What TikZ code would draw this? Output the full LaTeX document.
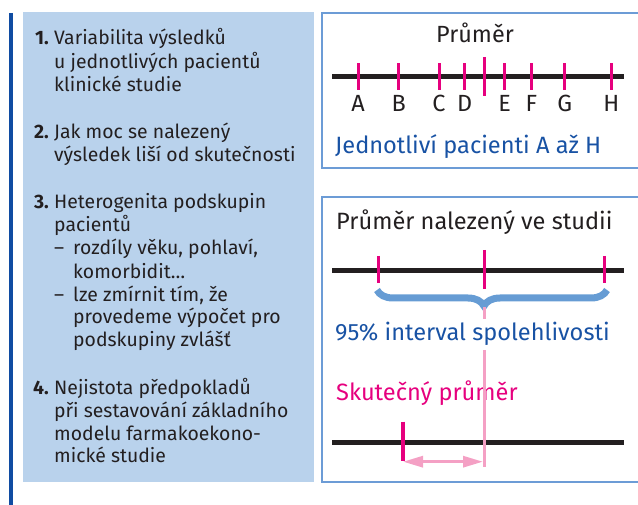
\documentclass[tikz,border=0pt]{standalone}
\usepackage{fontspec}
\setmainfont{Fira Sans}
\usetikzlibrary{arrows.meta,decorations.pathreplacing}

\definecolor{panelblue}{RGB}{185,210,236}
\definecolor{barblue}{RGB}{16,76,162}
\definecolor{frameblue}{RGB}{108,156,214}
\definecolor{inkgray}{RGB}{35,31,32}
\definecolor{textblue}{RGB}{24,82,164}
\definecolor{tickpink}{RGB}{230,0,126}
\definecolor{softpink}{RGB}{244,160,196}
\definecolor{braceblue}{RGB}{102,156,212}

\tikzset{
  listline/.style={anchor=base west, inner sep=0pt, text=inkgray,
    font=\fontsize{19.4}{23}\selectfont},
  listnum/.style={anchor=base east, inner sep=0pt, text=inkgray,
    font=\fontsize{19.4}{23}\selectfont\bfseries},
  boxtext/.style={anchor=base west, inner sep=0pt,
    font=\fontsize{23.6}{28}\selectfont},
  ticklabel/.style={anchor=base, inner sep=0pt, text=inkgray,
    font=\fontsize{23.4}{28}\selectfont},
  frame/.style={draw=frameblue, line width=2pt},
  axis/.style={draw=inkgray, line width=5pt},
  tick/.style={draw=tickpink, line width=3pt},
  meanline/.style={draw=softpink, line width=3pt},
}

\begin{document}
\begin{tikzpicture}[x=1pt,y=-1pt]
\useasboundingbox (0,0) rectangle (638,505);

% ---------- left panel with the list of uncertainty sources ----------
\fill[panelblue] (23,12) rectangle (314,482);
\draw[barblue, line width=3.5pt] (11,13) -- (11,505);

\node[listnum] (n1) at (49,45) {1.};
\node[listnum] (n2) at (49,139) {2.};
\node[listnum] (n3) at (49,208.5) {3.};
\node[listnum] (n4) at (49,395) {4.};

\foreach \yy/\txt [count=\i] in {
    45/{Variabilita výsledků},
    68.3/{u jednotlivých pacientů},
    91.6/{klinické studie},
    139/{Jak moc se nalezený},
    161.5/{výsledek liší od skutečnosti},
    208.5/{Heterogenita podskupin},
    231.5/{pacientů},
    395/{Nejistota předpokladů},
    417.7/{při sestavování základního},
    440.7/{modelu farmakoekono-},
    462.7/{mické studie}}
  \node[listline] (t\i) at (54,\yy) {\txt};

\node[listline] (d1) at (54,255) {–};
\node[listline] (d2) at (54,301.7) {–};
\foreach \yy/\txt [count=\i] in {
    255/{rozdíly věku, pohlaví,},
    278.3/{komorbidit…},
    301.7/{lze zmírnit tím, že},
    324/{provedeme výpočet pro},
    346.7/{podskupiny zvlášť}}
  \node[listline] (s\i) at (73,\yy) {\txt};

% ---------- upper box: individual patients ----------
\draw[frame] (638,13.5) -- (322,13.5) -- (322,168) -- (638,168);
\node[ticklabel] (mean1) at (475,42.7) {Průměr};
\coordinate (axA) at (332,77);
\coordinate (axB) at (624,77);
\draw[axis] (axA) -- (axB);
\foreach \xx/\lab in {358/A,398.7/B,439/C,464.7/D,504.7/E,531.3/F,564.7/G,611.3/H}{
  \draw[tick] (\xx,63.3) -- (\xx,90);
  \node[ticklabel] (p\lab) at (\xx,111.7) {\lab};
}
\draw[tick] (484,57) -- (484,96);
\node[boxtext, text=textblue] (pat) at (335,153.3) {Jednotliví pacienti A až H};

% ---------- lower box: study mean, confidence interval, true mean ----------
\draw[frame] (638,197) -- (322,197) -- (322,482) -- (638,482);
\node[boxtext, text=inkgray] (found) at (336,230) {Průměr nalezený ve studii};
\coordinate (bxA) at (332,270.7);
\coordinate (bxB) at (624,270.7);
\draw[axis] (bxA) -- (bxB);
\draw[tick] (378.3,256) -- (378.3,283.3);
\draw[tick] (604.3,256) -- (604.3,283.3);
\draw[tick] (484,250) -- (484,289.3);
\draw[braceblue, line width=7pt, decorate,
      decoration={brace, mirror, amplitude=16pt, aspect=0.465}]
  (377,290) -- (607,290);

\node[boxtext, text=textblue] (ci) at (335,341) {95\% interval spolehlivosti};
\node[boxtext, text=tickpink] (truem) at (336,400) {Skutečný průměr};

\coordinate (cxA) at (332,442.7);
\coordinate (cxB) at (624,442.7);
\draw[axis] (cxA) -- (cxB);
\coordinate (trueTop) at (403,421.7);
\coordinate (trueBot) at (403,460.7);
\draw[tick, line width=3.5pt] (trueTop) -- (trueBot);

\coordinate (foundTop) at (484,307);
\coordinate (foundMid) at (484,319);
\coordinate (foundLow) at (484,350);
\coordinate (foundBot) at (484,467);
\coordinate (arrL) at (403,461.7);
\coordinate (arrR) at (483,461.7);
\draw[meanline] (foundTop) -- (foundMid);
\draw[meanline] (foundLow) -- (foundBot);
\draw[softpink, line width=3pt,
      {Triangle[length=20pt,width=11pt]}-{Triangle[length=20pt,width=11pt]}]
  (arrL) -- (arrR);
\end{tikzpicture}
\end{document}
